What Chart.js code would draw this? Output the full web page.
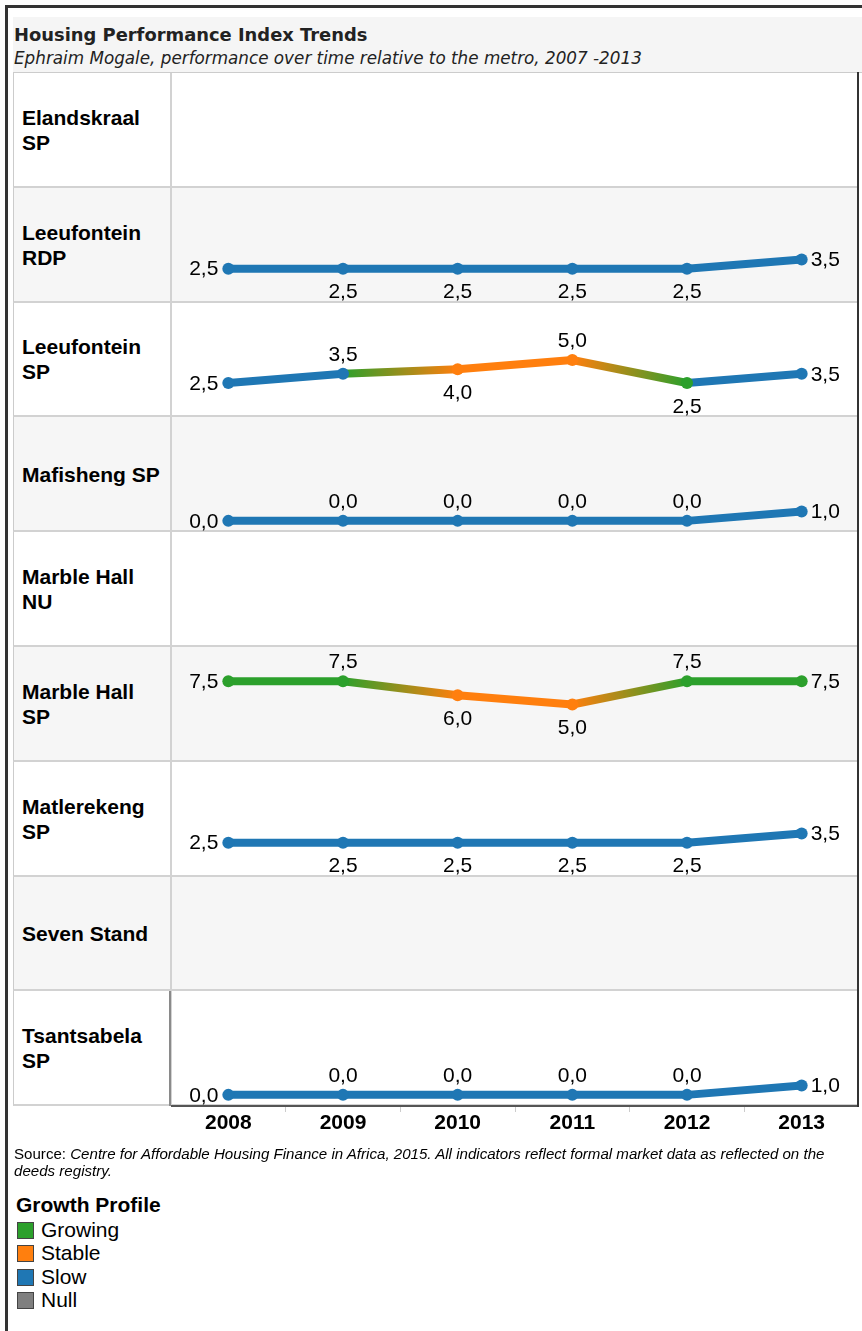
<!DOCTYPE html>
<html>
<head>
<meta charset="utf-8">
<script src="https://cdn.jsdelivr.net/npm/chart.js@4.4.1/dist/chart.umd.min.js"></script>
<style>
  body { margin: 0; background: #fff; width: 862px; height: 1331px; position: relative; overflow: hidden;
         font-family: "Liberation Sans", Arial, sans-serif; color: #000; }
  #frame { position: absolute; left: 5px; top: 5px; right: 0; bottom: 0; border-left: 3px solid #333; border-top: 3px solid #333; }
  #head { position: absolute; left: 13px; top: 17px; width: 849px; height: 55px; background: #f5f5f5;
          border-bottom: 1px solid #ccc; font-family: "DejaVu Sans", sans-serif; color: #222; }
  #title { position: absolute; left: 1px; top: 7px; font-weight: bold; font-size: 17.9px; white-space: nowrap; }
  #sub { position: absolute; left: 1px; top: 31px; font-style: italic; font-size: 16.8px; white-space: nowrap; }
  .row { position: absolute; left: 13px; width: 845px; border-left: 1px solid #ccc; border-bottom: 2px solid #d2d2d2; box-sizing: border-box; }
  .row.alt { background: #f6f6f6; }
  .lab { position: absolute; left: 8px; width: 142px; top: 50%; transform: translateY(-50%);
         font-weight: bold; font-size: 21px; line-height: 25px; }
  .row canvas { position: absolute; left: 157px; top: 0; }
  .vsep { position: absolute; left: 156px; top: 0; bottom: -2px; width: 2px; background: #d2d2d2; }
  #rline { position: absolute; left: 857px; top: 72px; width: 2px; height: 1035px; background: #333; }
  #lline { position: absolute; left: 169px; width: 2px; background: #8a8a8a; }
  #source { position: absolute; left: 14px; top: 1145px; width: 830px; font-size: 15.1px; line-height: 17px; }
  #legend { position: absolute; left: 16px; top: 1192px; }
  #legend .lt { font-weight: bold; font-size: 21px; line-height: 26px; }
  #legend .li { font-size: 21px; line-height: 23.3px; height: 23.3px; position: relative; padding-left: 25px; }
  #legend .sw { position: absolute; left: 1px; top: 4px; width: 15px; height: 15px; border: 1px solid #444; }
</style>
</head>
<body>
<div id="frame"></div>
<div id="head">
  <div id="title">Housing Performance Index Trends</div>
  <div id="sub">Ephraim Mogale, performance over time relative to the metro, 2007 -2013</div>
</div>
<div id="rows"></div>
<div id="rline"></div>
<div id="lline"></div>
<div id="source">Source: <i>Centre for Affordable Housing Finance in Africa, 2015. All indicators reflect formal market data as reflected on the deeds registry.</i></div>
<div id="legend"></div>

<script>
// categories
const years = ['2008', '2009', '2010', '2011', '2012', '2013'];
const places = ['Elandskraal SP', 'Leeufontein RDP', 'Leeufontein SP', 'Mafisheng SP', 'Marble Hall NU',
                'Marble Hall SP', 'Matlerekeng SP', 'Seven Stand', 'Tsantsabela SP'];

// index values per place (null = no data)
const elandskraalSp   = [null, null, null, null, null, null];
const leeufonteinRdp  = [2.5, 2.5, 2.5, 2.5, 2.5, 3.5];
const leeufonteinSp   = [2.5, 3.5, 4.0, 5.0, 2.5, 3.5];
const mafishengSp     = [0.0, 0.0, 0.0, 0.0, 0.0, 1.0];
const marbleHallNu    = [null, null, null, null, null, null];
const marbleHallSp    = [7.5, 7.5, 6.0, 5.0, 7.5, 7.5];
const matlerekengSp   = [2.5, 2.5, 2.5, 2.5, 2.5, 3.5];
const sevenStand      = [null, null, null, null, null, null];
const tsantsabelaSp   = [0.0, 0.0, 0.0, 0.0, 0.0, 1.0];

// growth profile per point
const allSlow = ['Slow', 'Slow', 'Slow', 'Slow', 'Slow', 'Slow'];
const leeufonteinSpProfile = ['Slow', 'Growing', 'Stable', 'Stable', 'Growing', 'Slow'];
const marbleHallSpProfile  = ['Growing', 'Growing', 'Stable', 'Stable', 'Growing', 'Growing'];

const profiles = ['Growing', 'Stable', 'Slow', 'Null'];
const profileColours = { Growing: '#2ca02c', Stable: '#ff7f0e', Slow: '#1f77b4', Null: '#7f7f7f' };

const series = [elandskraalSp, leeufonteinRdp, leeufonteinSp, mafishengSp, marbleHallNu,
                marbleHallSp, matlerekengSp, sevenStand, tsantsabelaSp];
const seriesProfile = [allSlow, allSlow, leeufonteinSpProfile, allSlow, allSlow,
                       marbleHallSpProfile, allSlow, allSlow, allSlow];

const fmt = v => v.toFixed(1).replace('.', ',');

const valueLabels = {
  id: 'valueLabels',
  afterDatasetsDraw(chart) {
    const ctx = chart.ctx;
    const vals = chart.data.datasets[0].data;
    const meta = chart.getDatasetMeta(0);
    ctx.save();
    ctx.font = '21px "Liberation Sans", Arial, sans-serif';
    ctx.fillStyle = '#000';
    ctx.textBaseline = 'middle';
    meta.data.forEach((pt, i) => {
      const v = vals[i];
      if (v == null) return;
      let x = pt.x, y = pt.y;
      if (i === 0) {
        ctx.textAlign = 'right'; x -= 10; y += 1;
      } else if (i === vals.length - 1) {
        ctx.textAlign = 'left'; x += 9; y += 1;
      } else {
        ctx.textAlign = 'center';
        const mid = (vals[i - 1] + vals[i + 1]) / 2;
        const above = v <= 0 || v > mid;
        y += above ? -19 : 24;
      }
      ctx.fillText(fmt(v), x, y);
    });
    ctx.restore();
  }
};

// colour of the line arriving at a point (slow segments stay blue)
const segColour = (prof, i) =>
  (prof[i] === 'Slow' || (i > 0 && prof[i - 1] === 'Slow')) ? profileColours.Slow : profileColours[prof[i]];

const rowsEl = document.getElementById('rows');
const top0 = 73, rowH = 114.8;
const plotW = 688;

places.forEach((name, r) => {
  const top = Math.round(top0 + r * rowH);
  const h = Math.round(top0 + (r + 1) * rowH) - top;
  const last = r === places.length - 1;
  const row = document.createElement('div');
  row.className = 'row' + (r % 2 ? ' alt' : '');
  row.style.top = top + 'px';
  row.style.height = h + 'px';
  row.innerHTML = '<div class="lab">' + name + '</div><div class="vsep"></div>';
  const cv = document.createElement('canvas');
  const axisH = 40;
  cv.width = plotW;
  cv.height = h + (last ? axisH : 0);
  cv.style.width = plotW + 'px';
  cv.style.height = cv.height + 'px';
  row.appendChild(cv);
  rowsEl.appendChild(row);

  if (last) {
    const ll = document.getElementById('lline');
    ll.style.top = top + 'px';
    ll.style.height = h + 'px';
  }

  const c2d = cv.getContext('2d');
  const prof = seriesProfile[r];
  const vals = series[r];

  new Chart(cv, {
    type: 'line',
    data: {
      labels: years,
      datasets: [{
        label: name,
        data: vals,
        borderWidth: 8,
        borderJoinStyle: 'round',
        pointRadius: 6,
        pointBorderWidth: 0,
        pointBackgroundColor: vals.map((v, i) => segColour(prof, i)),
        borderColor: profileColours.Slow,
        segment: {
          borderColor: s => {
            const a = prof[s.p0DataIndex], b = prof[s.p1DataIndex];
            if (a === 'Slow' || b === 'Slow') return profileColours.Slow;
            if (a === b) return profileColours[a];
            const g = c2d.createLinearGradient(s.p0.x, s.p0.y, s.p1.x, s.p1.y);
            g.addColorStop(0, profileColours[a]);
            g.addColorStop(1, profileColours[b]);
            return g;
          }
        }
      }]
    },
    options: {
      responsive: false,
      animation: false,
      layout: { padding: 0, autoPadding: false },
      plugins: { legend: { display: false }, tooltip: { enabled: false } },
      scales: {
        x: {
          type: 'category',
          offset: true,
          display: last,
          afterFit: s => { if (last) s.height = axisH; },
          grid: { display: true, drawOnChartArea: false, offset: true, tickLength: 6, color: '#ccc' },
          border: { display: true, color: '#555', width: 2 },
          ticks: { color: '#000', padding: -1, font: { family: '"Liberation Sans", Arial, sans-serif', size: 21, weight: 'bold' } }
        },
        y: { display: false, min: -1.2, max: 11.2 }
      }
    },
    plugins: [valueLabels]
  });
});

// legend
const lg = document.getElementById('legend');
lg.innerHTML = '<div class="lt">Growth Profile</div>' + profiles.map(p =>
  '<div class="li"><span class="sw" style="background:' + profileColours[p] + '"></span>' + p + '</div>').join('');
</script>
</body>
</html>
